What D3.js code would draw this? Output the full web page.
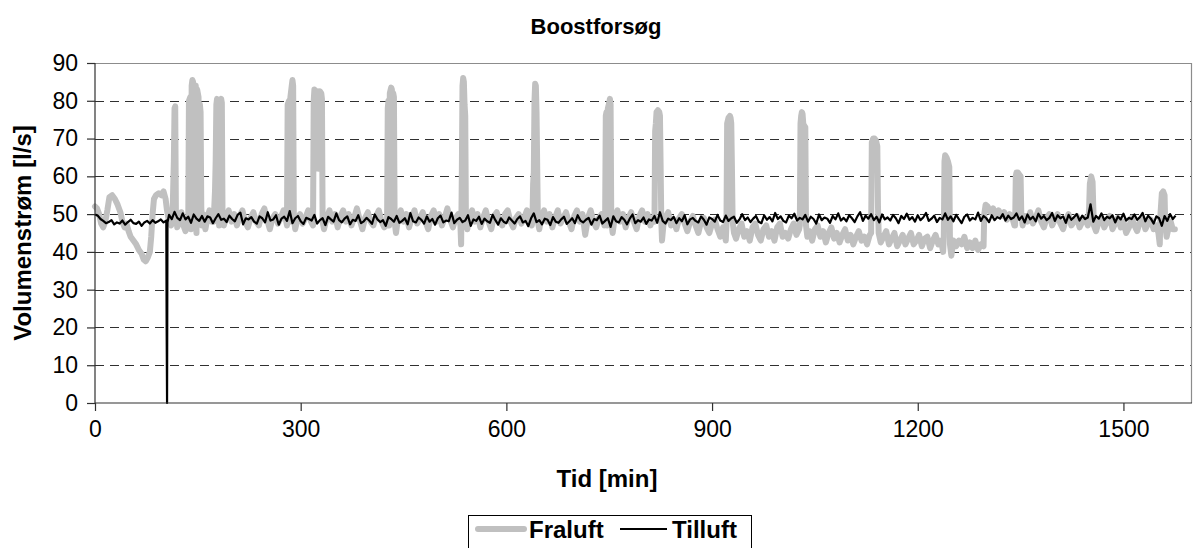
<!DOCTYPE html>
<html>
<head>
<meta charset="utf-8">
<script src="https://cdn.jsdelivr.net/npm/d3@7"></script>
<style>
  html, body { margin: 0; padding: 0; background: #ffffff; }
  svg { display: block; font-family: "Liberation Sans", Arial, sans-serif; }
</style>
</head>
<body>
<svg id="chart" width="1193" height="548"></svg>
<script>
// ---- Text ----
const chartTitle = "Boostforsøg";
const xTitle = "Tid [min]";
const yTitle = "Volumenstrøm [l/s]";
const seriesNames = ["Fraluft", "Tilluft"];

// ---- Axes ----
const xDomain = [0, 1600];
const yDomain = [0, 90];
const xTicks = [0, 300, 600, 900, 1200, 1500];
const yTicks = [0, 10, 20, 30, 40, 50, 60, 70, 80, 90];
const yGrid = [10, 20, 30, 40, 50, 60, 70, 80];

// ---- Fraluft (exhaust air), time in minutes and flow in l/s ----
const fraluftTime = [
  0,3,6,9,12,15,18,21,25,29, 33,37,40,43,46,49,52,56,60,64, 68,71,74,77,80,82,84,86,89,93, 97,100,103,105,108,111,113,115,116,117, 118,120,123,126,129,132,135,
  136,137,139,140,141,142,143,144,145,147, 148,149,151,152,153,154,155,156,158,161, 164,167,170,
  173,175,176,177,178,180,181,182,184,185, 186,188,191,195,199,203,207,211,215,219, 223,227,231,235,239,243,247,251,255,259, 263,267,271,275,279,
  280,281,283,284,285,287,288,289,290,292, 295,299,303,307,311,315,
  318,319,320,321,322,323,324,325,326,327, 328,330,331,332,334,338,342,346,350,354, 358,362,366,370,374,378,382,386,390,394, 398,402,406,410,414,418,422,425,
  426,427,428,429,430,432,433,434,435,436, 437,439,442,446,450,454,458,462,466,470, 474,478,482,486,490,494,498,502,506,510, 514,518,522,526,530,533,
  534,535,536,537,538,539,540,541,543,546, 550,554,558,562,566,570,574,578,582,586, 590,594,598,602,606,610,614,618,622,626, 630,634,637,
  638,639,640,641,642,643,644,645,646,648, 651,655,659,663,667,671,675,679,683,687, 691,695,699,703,707,711,715,719,723,727, 731,735,739,743,
  744,745,746,747,748,750,751,752,753,755, 758,762,766,770,774,778,782,786,790,794, 798,802,806,810,814,
  816,817,818,819,821,823,824,825,826,827, 829,832,836,840,844,848,852,856,860,864, 868,872,876,880,884,888,892,896,900,904, 908,912,916,919,920,921,
  922,924,926,927,928,929,930,932,935,939, 943,947,951,955,959,963,967,971,975,979, 983,987,991,995,999,1003,1007,1011,1015,1019, 1023,1027,
  1028,1029,1030,1031,1032,1033,1034,1036,1037,1039, 1042,1046,1050,1054,1058,1062,1066,1070,1074,1078, 1082,1086,1090,1094,1098,1102,1106,1110,1114,1118, 1122,1126,1130,1132,
  1133,1135,1137,1139,1141,1142,1143,1146,1150,1154, 1158,1162,1166,1170,1174,1178,1182,1186,1190,1194, 1198,1202,1206,1210,1214,1218,1222,1226,1230,1234, 1237,1238,
  1239,1240,1242,1244,1246,1247,1249,1252,1256,1260, 1264,1268,1272,1276,1280,1284,1288,1292,1296,1297, 1299,1302,1306,1310,1314,1318,1322,1326,1330,1334, 1338,1341,
  1342,1343,1344,1346,1348,1350,1351,1353,1356,1360, 1364,1368,1372,1376,1380,1384,1388,1392,1396,1400, 1404,1408,1412,1416,1420,1424,1428,1432,1436,1440, 1444,1448,
  1449,1450,1451,1453,1455,1456,1457,1460,1464,1468, 1472,1476,1480,1484,1488,1492,1496,1500,1504,1508, 1512,1516,1520,1524,1528,1532,1536,1540,1544,1548, 1551,1553,1554,1556,1558,1560,1561,1563,1566,1569, 1572,1575
];
const fraluftValue = [
  52,51.5,50,47.5,46.5,48,51,54.5,55,54, 52.5,50.5,48,46.5,47.5,45.5,44,43,42,40.5, 39.5,38,37.5,38.5,40,44,50,54,55,55.5, 55,56,54,51,48,47,49,64,78,78.5, 50,46.5,48,50.5,47,45.5,48,
  47,80,81,46,84,85.5,85,48,83,84, 45,83,81,50,79,77,52,47,50,46, 49,51,48,
  48,56,64,79,80.5,80,47,80,80.5,79.5, 50,47,49,51,48,50,47,49.5,51,48, 46.5,49,50.5,48,47,50,51.5,48.5,46,49, 50,47.5,49,51,48,
  47,79,80,48,81,84,85.5,84,49,46, 48.5,50,47.5,49,51,48,
  47,80,83,82.5,66,82,64,82.5,62,82, 82.5,82,80.5,48,46,49,51,48,50,46.5, 49.5,51,48,50,47,49,51.5,48.5,46,49, 50.5,48,47,49.5,51,48,46.5,48,
  47,78,80,47,82,83.5,83,48,82,81, 48,45,49,51,48,50,46.5,49,51,47.5, 49,50.5,48,46,49.5,51,48,50,47,49, 51.5,48.5,46.5,49,50,47,
  42,60,84,86,85,79,76,48,46,49, 51,48,50,46.5,49,51,48,46,49.5,50.5, 48,47,50,51,48,46.5,49,50,47.5,49, 51,48,47,
  48,58,61,80,84.5,84,77,62,48,46, 49,51,48,50,46.5,49,51,47.5,49,50.5, 48,46,49.5,51,48,50,44.5,49,51,48, 46.5,49,50,47,
  48,76,77,47,78,79.5,80.5,79,48,45, 49,51,48,50,46.5,49,50.5,48,46,49.5, 51,48,50,47,49,
  48,72,74,77,77.5,77,76,62,48,43, 47,49,50.5,47,48.5,46,49,50,47.5,45.5, 48,49.5,47,45,48,49,46.5,45,47.5,48.5, 46,44,46.5,44,43,47,
  74,75.5,76,75.5,74,62,48,45,43.5,46, 47.5,44,45.5,43,46.5,47.5,44.5,43,46,47, 44,45.5,43,46.5,47.5,44,45,43.5,46,47.5, 44.5,46,
  47,74,76,77,76.5,74,73.5,73,47,44, 45.5,43,46,47,44,45.5,42.5,45,46.5,43.5, 45,42.5,44.5,46,43,44.5,42,44,45.5,43, 44,42,44.5,45,
  69,70,70,69.5,68,52,45,42.5,44,45.5, 42,43.5,45,41.5,43,44.5,42,43.5,45,42, 43,44.5,41.5,43.5,44,41,43,44.5,42,43, 40,44,
  64,65.6,65,64,62.5,42,39,43,41.5,43, 42,44,41,42.5,41,43,40.5,42,41.5,50, 52.5,52,50.5,51.5,50,51,49.5,50.5,48.5,50, 49,47,
  47,60,61,61,60.5,60,50,47,49.5,48, 50.5,47.5,49,51,48,46.5,49,50,47,48.5, 50,47.5,46,48.5,50,47,48,49.5,46.5,48, 49,47,
  48,52,58,60,58.5,52,47,45.5,48,49, 46.5,48,49.5,46,47.5,49,46.5,48,45,46.5, 49,47,45.5,48,49,46,47.5,48.5,46,47, 45,42,50,55.5,56,55,47,44,46.5,48, 46,46
];

// ---- Tilluft (supply air), one reading every 4 minutes from t = 0 ----
const tilluftStart = 0;
const tilluftStep = 4;
const tilluftValue = [
  49.9,49.6,48.7,48.2,47.6,47.9,48.4,47.3,47.8,47.5,
  48.3,47.2,47.9,48.5,47.6,47.4,48.0,46.9,47.8,48.2,
  47.5,48.4,47.7,48.1,48.6,47.8,48.3,49.8,48.7,50.6,
  49.0,48.4,50.2,48.6,49.3,47.7,49.9,48.8,48.2,49.5,
  48.0,49.4,49.1,47.6,48.9,50.0,48.5,48.8,47.9,49.6,
  48.7,48.1,49.8,50.4,47.3,48.9,48.6,49.2,48.0,47.5,
  49.4,48.9,47.8,50.5,48.3,48.6,49.7,47.2,48.8,49.3,
  48.2,50.8,47.6,48.9,49.5,48.1,47.4,49.0,48.7,48.3,
  49.8,47.5,48.4,48.9,47.1,49.3,48.6,48.0,50.2,48.4,
  47.8,48.8,49.4,47.3,48.5,48.2,49.7,47.6,48.1,49.0,
  48.3,47.4,49.9,48.6,47.9,48.4,46.9,49.2,48.7,48.0,
  49.5,47.7,48.2,48.9,47.3,50.3,48.1,47.8,49.1,48.5,
  47.5,49.4,48.0,48.7,47.2,48.9,49.6,47.8,48.3,48.1,
  50.4,47.6,48.5,49.0,47.9,48.3,49.7,46.9,48.6,48.2,
  49.3,47.4,48.8,48.1,47.7,49.8,48.4,47.2,48.9,48.0,
  47.6,49.1,48.3,47.5,48.7,49.4,47.8,48.2,46.8,48.9,
  50.2,47.9,48.4,47.3,48.8,48.5,47.1,49.2,48.0,47.7,
  48.6,49.3,47.4,48.1,48.9,47.6,49.7,48.3,47.8,48.5,
  49.0,47.2,48.7,48.4,49.6,47.5,48.2,48.9,46.6,49.4,
  48.1,47.8,49.2,48.5,47.3,48.8,49.9,47.6,48.4,48.0,
  49.1,47.4,48.6,48.3,49.5,47.7,50.5,48.2,47.5,48.8,
  48.4,49.3,47.6,48.9,48.1,49.7,47.3,48.6,49.0,48.2,
  47.8,49.4,48.5,47.2,49.1,48.7,48.0,49.8,48.3,47.9,
  49.6,48.2,48.9,49.3,47.7,48.6,50.0,48.4,49.1,47.9,
  48.8,49.5,48.0,47.6,49.7,48.5,49.2,48.1,50.3,48.7,
  49.4,48.2,47.8,49.6,48.9,50.1,48.3,49.0,48.6,49.8,
  48.0,49.3,48.7,47.5,49.9,48.4,49.1,48.8,47.7,49.5,
  48.6,50.2,48.3,49.0,48.1,49.7,48.9,47.9,49.4,50.5,
  48.2,49.6,48.8,50.0,48.4,49.3,47.8,49.9,48.6,49.1,
  48.3,49.8,48.9,47.6,49.5,48.7,50.1,48.5,49.2,48.0,
  49.7,48.4,49.1,50.3,48.2,48.8,49.6,47.9,49.0,48.6,
  50.2,48.5,49.4,48.1,49.8,48.7,47.6,49.3,49.9,48.3,
  49.0,48.6,50.4,48.2,49.5,48.9,47.9,49.7,48.4,49.2,
  48.8,50.0,48.3,49.6,48.7,49.1,50.2,48.5,49.4,47.8,
  49.9,48.6,49.3,48.1,50.1,48.8,49.5,48.4,49.0,50.3,
  48.2,49.7,48.9,49.4,47.7,49.8,48.5,49.2,50.0,48.3,
  49.6,48.7,49.1,52.6,48.0,49.5,48.8,50.2,48.4,49.3,
  48.9,49.7,47.8,49.4,48.6,50.1,48.3,49.0,48.7,49.9,
  48.5,49.2,50.3,48.1,49.6,48.8,47.5,49.4,48.9,46.9,
  49.5,48.2,50.0,48.7,49.6
];
// short outage of the supply fan
const tilluftDipTime = [104.5, 105.1, 105.7];
const tilluftDipValue = [20, 0, 47.8];

// ---- Drawing ----
const svg = d3.select("#chart");
const W = 1193, H = 548;
const plot = { left: 95, right: 1192, top: 63, bottom: 403 };
const fontTick = "23px";
const fontTitle = "22px";
const fontAxisTitle = "24px";

const x = d3.scaleLinear().domain(xDomain).range([plot.left, plot.right]);
const y = d3.scaleLinear().domain(yDomain).range([plot.bottom, plot.top]);

svg.append("rect").attr("width", W).attr("height", H).attr("fill", "#ffffff");

// dashed horizontal gridlines
svg.append("g").selectAll("line").data(yGrid).join("line")
  .attr("x1", plot.left).attr("x2", plot.right)
  .attr("y1", d => Math.round(y(d)) + 0.5).attr("y2", d => Math.round(y(d)) + 0.5)
  .attr("stroke", "#303030").attr("stroke-width", 1)
  .attr("stroke-dasharray", "9,6");

// plot-area frame (top and right)
svg.append("path")
  .attr("d", `M${plot.left},${plot.top + 0.5}H${plot.right - 0.5}V${plot.bottom}`)
  .attr("fill", "none").attr("stroke", "#8c8c8c").attr("stroke-width", 1.2);

const fraluft = fraluftTime.map((t, i) => ({ t, v: fraluftValue[i] }));
const tilluft = tilluftValue.map((v, i) => ({ t: tilluftStart + i * tilluftStep, v }))
  .concat(tilluftDipTime.map((t, i) => ({ t, v: tilluftDipValue[i] })))
  .sort((a, b) => a.t - b.t);

const line = d3.line().x(d => x(d.t)).y(d => y(d.v));

svg.append("path").datum(fraluft)
  .attr("d", line)
  .attr("fill", "none").attr("stroke", "#c0c0c0").attr("stroke-width", 6)
  .attr("stroke-linejoin", "round").attr("stroke-linecap", "round");

svg.append("path").datum(tilluft)
  .attr("d", line)
  .attr("fill", "none").attr("stroke", "#000000").attr("stroke-width", 2.2)
  .attr("stroke-linejoin", "round");

// axes
const yAxis = svg.append("g")
  .attr("transform", `translate(${plot.left},0)`)
  .call(d3.axisLeft(y).tickValues(yTicks).tickSize(8).tickPadding(9).tickFormat(d3.format("d")));
const xAxis = svg.append("g")
  .attr("transform", `translate(0,${plot.bottom})`)
  .call(d3.axisBottom(x).tickValues(xTicks).tickSize(8).tickPadding(10).tickFormat(d3.format("d")));

[yAxis, xAxis].forEach(g => {
  g.select(".domain").attr("stroke", "#303030").attr("stroke-width", 1.2);
  g.selectAll(".tick line").attr("stroke", "#303030").attr("stroke-width", 1.2);
  g.selectAll(".tick text")
    .attr("fill", "#000")
    .style("font-size", fontTick)
    .style("font-family", "'Liberation Sans', Arial, sans-serif");
});
xAxis.select(".domain").attr("d", `M${plot.left},0H${plot.right}`);
yAxis.select(".domain").attr("d", `M0,${plot.bottom}V${plot.top}`);

// titles
svg.append("text")
  .attr("x", 596).attr("y", 34)
  .attr("text-anchor", "middle")
  .style("font-size", fontTitle).style("font-weight", "bold")
  .text(chartTitle);

svg.append("text")
  .attr("x", 607).attr("y", 487)
  .attr("text-anchor", "middle")
  .style("font-size", fontAxisTitle).style("font-weight", "bold")
  .text(xTitle);

svg.append("text")
  .attr("transform", `translate(31,${(plot.top + plot.bottom) / 2}) rotate(-90)`)
  .attr("text-anchor", "middle")
  .style("font-size", fontAxisTitle).style("font-weight", "bold")
  .text(yTitle);

// legend
const legend = svg.append("g").attr("transform", "translate(468,515)");
legend.append("rect")
  .attr("x", 0.5).attr("y", 0.5).attr("width", 283).attr("height", 50)
  .attr("fill", "#ffffff").attr("stroke", "#000000").attr("stroke-width", 1);
legend.append("line")
  .attr("x1", 10).attr("x2", 56).attr("y1", 14).attr("y2", 14)
  .attr("stroke", "#c0c0c0").attr("stroke-width", 6).attr("stroke-linecap", "round");
legend.append("text")
  .attr("x", 61).attr("y", 23)
  .style("font-size", fontAxisTitle).style("font-weight", "bold")
  .text(seriesNames[0]);
legend.append("line")
  .attr("x1", 152).attr("x2", 199).attr("y1", 14).attr("y2", 14)
  .attr("stroke", "#000000").attr("stroke-width", 2.2);
legend.append("text")
  .attr("x", 204).attr("y", 23)
  .style("font-size", fontAxisTitle).style("font-weight", "bold")
  .text(seriesNames[1]);
</script>
</body>
</html>
